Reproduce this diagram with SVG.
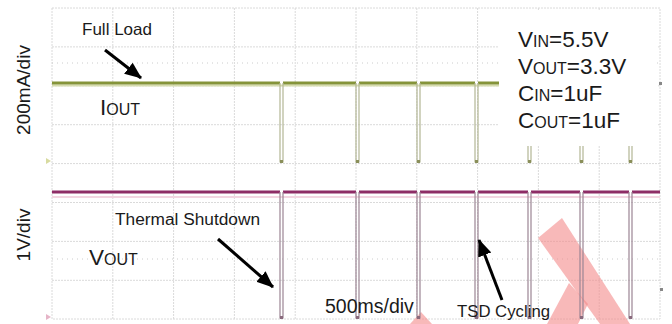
<svg xmlns="http://www.w3.org/2000/svg" width="672" height="324" viewBox="0 0 672 324">
  <defs>
    <style>
      .grid { stroke: #dadada; stroke-width: 1; stroke-dasharray: 2 1; fill: none; }
      .tick { stroke: #cccccc; stroke-width: 1; stroke-dasharray: 1 4; fill: none; }
      .itrace { stroke: #85943a; stroke-width: 3.2; fill: none; }
      .ihalo { stroke: #d6dcae; stroke-width: 2; fill: none; }
      .idip { stroke: #b3b695; stroke-width: 1.2; fill: none; }
      .vtrace { stroke: #8e2d66; stroke-width: 2.8; fill: none; }
      .vhalo { stroke: #f3d6e1; stroke-width: 2; fill: none; }
      .vdip { stroke: #9c8594; stroke-width: 1.2; fill: none; }
      .lbl { font-family: "Liberation Sans", Arial, Helvetica, sans-serif; fill: #1a1a1a; }
      .arrow { stroke: #000; stroke-width: 3; fill: none; marker-end: url(#ah); }
      .wm { fill: #f38a8a; opacity: 0.6; }
    </style>
    <marker id="ah" markerUnits="userSpaceOnUse" markerWidth="18" markerHeight="16" refX="16" refY="8" orient="auto">
      <path d="M0,1 L17,8 L0,15 Z" fill="#000"/>
    </marker>
  </defs>

  <rect x="0" y="0" width="672" height="324" fill="#ffffff"/>

  <g id="grid">
    <rect x="52" y="8" width="608" height="311" class="grid"/>
    <path class="grid" d="M112.8,8V319 M173.6,8V319 M234.4,8V319 M295.2,8V319 M356,8V319 M416.8,8V319 M477.6,8V319 M538.4,8V319 M599.2,8V319"/>
    <path class="grid" d="M52,46.9H660 M52,85.8H660 M52,124.7H660 M52,163.6H660 M52,202.5H660 M52,241.4H660 M52,280.3H660"/>
    <path class="tick" d="M52,63H660 M52,259H660"/>
  </g>

  <g id="watermark">
    <polygon class="wm" points="538,238 562,218 630,324 600,324"/>
    <polygon class="wm" points="569,283 588,304 578,324 547,324"/>
    <polygon class="wm" points="410,324 421,312 432,324"/>
  </g>

  <g id="iout-trace">
    <path class="ihalo" d="M52,85.5H499"/>
    <path class="itrace" d="M52,83H280 M283,83H356 M359,83H417 M420,83H475 M478,83H499"/>
    <path class="idip" d="M280,83V162H283V83 M356,83V162H359V83 M417,83V162H420V83 M475,83V162H478V83 M528,83V162H531V83 M580,83V162H583V83 M629,83V162H632V83"/>
    <rect x="280" y="160" width="3" height="3" fill="#8a8f5a"/>
    <rect x="356" y="160" width="3" height="3" fill="#8a8f5a"/>
    <rect x="417" y="160" width="3" height="3" fill="#8a8f5a"/>
    <rect x="475" y="160" width="3" height="3" fill="#8a8f5a"/>
    <rect x="528" y="160" width="3" height="3" fill="#8a8f5a"/>
    <rect x="580" y="160" width="3" height="3" fill="#8a8f5a"/>
    <rect x="629" y="160" width="3" height="3" fill="#8a8f5a"/>
    <rect x="659" y="82" width="3" height="3" fill="#888"/>
    <path d="M46,158 L51,161 L46,164 Z" fill="#d8dba0"/>
  </g>

  <g id="vout-trace">
    <path class="vhalo" d="M52,197H660"/>
    <path class="vtrace" d="M52,192H280 M283,192H356 M359,192H417 M420,192H475 M478,192H528 M531,192H580 M583,192H629 M632,192H660"/>
    <path class="vdip" d="M280,192V318H283V192 M356,192V318H359V192 M417,192V318H420V192 M475,192V318H478V192 M528,192V318H531V192 M580,192V318H583V192 M629,192V318H632V192"/>
    <rect x="280" y="316" width="3" height="3" fill="#8a6a7d"/>
    <rect x="356" y="316" width="3" height="3" fill="#8a6a7d"/>
    <rect x="417" y="316" width="3" height="3" fill="#8a6a7d"/>
    <rect x="475" y="316" width="3" height="3" fill="#8a6a7d"/>
    <rect x="528" y="316" width="3" height="3" fill="#8a6a7d"/>
    <rect x="580" y="316" width="3" height="3" fill="#8a6a7d"/>
    <rect x="629" y="316" width="3" height="3" fill="#8a6a7d"/>
    <rect x="660" y="288" width="3" height="3" fill="#888"/>
    <path d="M46,314 L51,317 L46,320 Z" fill="#e6b5c8"/>
  </g>

  <g id="legend">
    <rect x="499" y="10" width="158" height="136" fill="#ffffff"/>
    <text class="lbl" x="518" y="47" font-size="22.5">V<tspan font-size="16">IN</tspan>=5.5V</text>
    <text class="lbl" x="518" y="74" font-size="22.5">V<tspan font-size="16">OUT</tspan>=3.3V</text>
    <text class="lbl" x="518" y="101" font-size="22.5">C<tspan font-size="16">IN</tspan>=1uF</text>
    <text class="lbl" x="518" y="128" font-size="22.5">C<tspan font-size="16">OUT</tspan>=1uF</text>
  </g>

  <g id="axis-labels">
    <text class="lbl" transform="translate(30,90) rotate(-90)" text-anchor="middle" font-size="19">200mA/div</text>
    <text class="lbl" transform="translate(30,235) rotate(-90)" text-anchor="middle" font-size="19">1V/div</text>
    <text class="lbl" x="325" y="313" font-size="19.5">500ms/div</text>
  </g>

  <g id="iout-label">
    <text class="lbl" x="100" y="115" font-size="22.5">I<tspan font-size="16">OUT</tspan></text>
  </g>
  <g id="vout-label">
    <text class="lbl" x="89" y="265" font-size="22.5">V<tspan font-size="16">OUT</tspan></text>
  </g>
  <g id="full-load">
    <text class="lbl" x="82" y="35" font-size="16.5" textLength="70" lengthAdjust="spacingAndGlyphs">Full Load</text>
  </g>
  <g id="thermal-shutdown">
    <text class="lbl" x="115" y="225" font-size="16" textLength="145" lengthAdjust="spacingAndGlyphs">Thermal Shutdown</text>
  </g>
  <g id="tsd-cycling">
    <text class="lbl" x="457" y="317" font-size="16.5" textLength="93" lengthAdjust="spacingAndGlyphs">TSD Cycling</text>
  </g>

  <g id="connectors">
    <line class="arrow" x1="105" y1="50" x2="141" y2="78"/>
    <line class="arrow" x1="218" y1="239" x2="273" y2="287"/>
    <line class="arrow" x1="502" y1="300" x2="479" y2="240"/>
  </g>
</svg>
